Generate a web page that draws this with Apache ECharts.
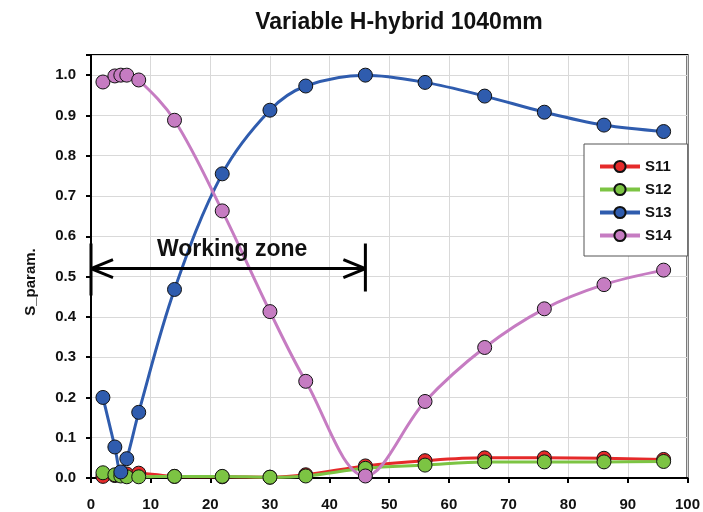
<!DOCTYPE html>
<html><head><meta charset="utf-8">
<script src="https://cdn.jsdelivr.net/npm/echarts@6/dist/echarts.min.js"></script>
<style>html,body{margin:0;padding:0;background:#fff}#c{width:703px;height:512px}</style>
</head><body><div id="c"></div>
<script>
const xs = [2, 4, 5, 6, 8, 14, 22, 30, 36, 46, 56, 66, 76, 86, 96];
const s11 = [0.004, 0.006, 0.008, 0.010, 0.012, 0.004, 0.003, 0.002, 0.008, 0.030, 0.043, 0.050, 0.050, 0.049, 0.046];
const s12 = [0.013, 0.008, 0.005, 0.003, 0.003, 0.004, 0.004, 0.002, 0.005, 0.024, 0.032, 0.040, 0.040, 0.040, 0.041];
const s13 = [0.200, 0.077, 0.015, 0.048, 0.163, 0.468, 0.755, 0.913, 0.973, 1.000, 0.982, 0.948, 0.908, 0.876, 0.860];
const s14 = [0.983, 0.998, 1.000, 1.000, 0.988, 0.888, 0.663, 0.413, 0.240, 0.005, 0.190, 0.324, 0.420, 0.480, 0.516];
const names = ['S11', 'S12', 'S13', 'S14'];
const colors = ['#e52a2a', '#7cc443', '#2f5cae', '#c67cc2'];
const zoneFrom = 0, zoneTo = 46, zoneY = 0.52;

const font = '"Liberation Sans", Arial, sans-serif';
const chart = echarts.init(document.getElementById('c'));
const mk = (name, vals, i) => ({
  name, type: 'line', smooth: 0.35,
  data: xs.map((x, k) => [x, vals[k]]),
  symbol: 'circle', symbolSize: 14,
  lineStyle: { color: colors[i], width: 3 },
  itemStyle: { color: colors[i], borderColor: '#111', borderWidth: 1 },
  z: 2 + i
});
chart.setOption({
  animation: false,
  title: { text: 'Variable H-hybrid 1040mm', left: 394, top: 6, textAlign: 'center',
    textStyle: { fontFamily: font, fontSize: 23, fontWeight: 'bold', color: '#111' } },
  grid: { left: 91, right: 13, top: 55, bottom: 32, show: true, borderColor: '#000', borderWidth: 2 },
  legend: {
    orient: 'vertical', left: 584, top: 144,
    padding: [15, 16, 13, 14], itemGap: 8, itemWidth: 40, itemHeight: 14,
    backgroundColor: '#fff', borderColor: '#555', borderWidth: 1,
    lineStyle: { width: 4 },
    textStyle: { fontFamily: font, fontSize: 15, fontWeight: 'bold', color: '#111' },
    data: names
  },
  xAxis: {
    type: 'value', min: 0, max: 100, interval: 10,
    axisLine: { show: true, lineStyle: { color: '#000', width: 2 } },
    axisTick: { show: true, length: 5, lineStyle: { color: '#000', width: 2 } },
    axisLabel: { fontFamily: font, fontSize: 15, fontWeight: 'bold', color: '#111', margin: 19 },
    splitLine: { show: true, lineStyle: { color: '#d9d9d9', width: 1 } }
  },
  yAxis: {
    type: 'value', min: 0, max: 1.05, interval: 0.1,
    axisLine: { show: true, lineStyle: { color: '#000', width: 2 } },
    axisTick: { show: true, length: 5, lineStyle: { color: '#000', width: 2 } },
    axisLabel: { fontFamily: font, fontSize: 15, fontWeight: 'bold', color: '#111', margin: 15,
      formatter: v => (Math.abs(v * 10 - Math.round(v * 10)) < 1e-6 ? v.toFixed(1) : '') },
    splitLine: { show: true, lineStyle: { color: '#d9d9d9', width: 1 } }
  },
  series: [mk(names[0], s11, 0), mk(names[1], s12, 1), mk(names[2], s13, 2), mk(names[3], s14, 3)]
});

const a = chart.convertToPixel({ gridIndex: 0 }, [zoneFrom, zoneY]);
const b = chart.convertToPixel({ gridIndex: 0 }, [zoneTo, zoneY]);
const st = { stroke: '#000', lineWidth: 3 };
const L = (x1, y1, x2, y2) => ({ type: 'line', shape: { x1, y1, x2, y2 }, style: st, z: 50 });
chart.setOption({
  graphic: [
    L(a[0], a[1], b[0], b[1]),
    L(a[0], a[1] - 25, a[0], a[1] + 27),
    L(b[0], b[1] - 25, b[0], b[1] + 23),
    L(a[0], a[1], a[0] + 22, a[1] - 9),
    L(a[0], a[1], a[0] + 22, a[1] + 9),
    L(b[0], b[1], b[0] - 22, b[1] - 9),
    L(b[0], b[1], b[0] - 22, b[1] + 9),
    { type: 'text', x: (a[0] + b[0]) / 2 + 4, y: a[1] - 19, z: 50,
      style: { text: 'Working zone', fontFamily: font, fontSize: 23, fontWeight: 'bold', fill: '#111',
        align: 'center', verticalAlign: 'middle' } },
    { type: 'text', x: 31, y: 282, rotation: Math.PI / 2, z: 50,
      style: { text: 'S_param.', fontFamily: font, fontSize: 15, fontWeight: 'bold', fill: '#111',
        align: 'center', verticalAlign: 'middle' } }
  ]
});
</script></body></html>
